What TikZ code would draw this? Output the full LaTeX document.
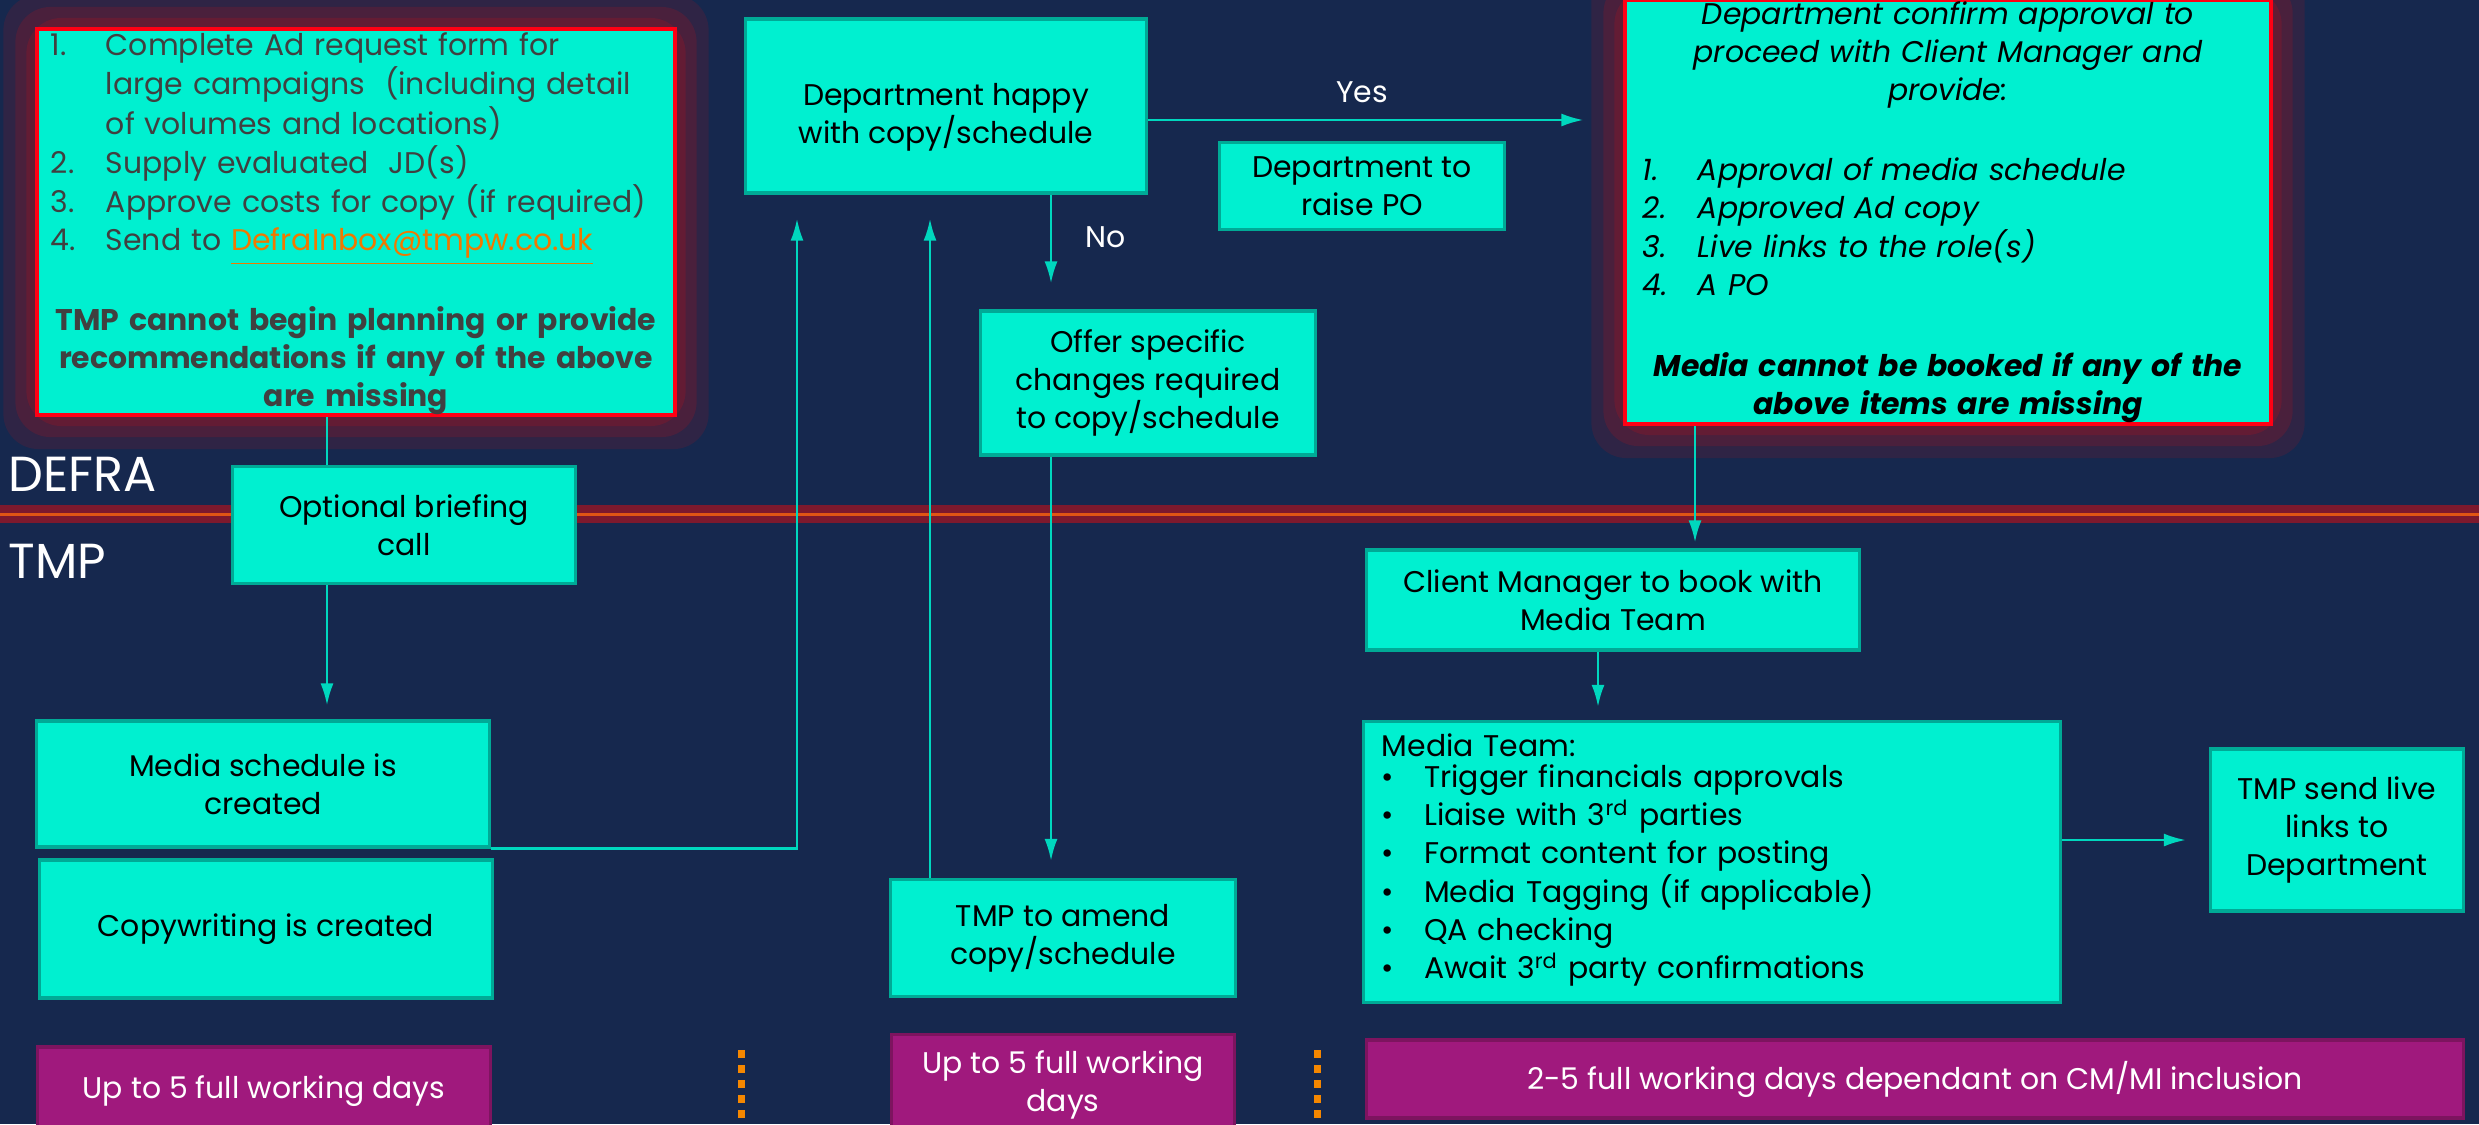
\documentclass[tikz,border=0pt]{standalone}
\usepackage{fontspec}
\setmainfont{Poppins}
\usepackage{tikz}
\usetikzlibrary{arrows.meta,backgrounds}

\definecolor{bgnavy}{RGB}{22,40,78}
\definecolor{boxteal}{RGB}{0,240,208}
\definecolor{tealedge}{RGB}{0,170,150}
\definecolor{flowteal}{RGB}{0,215,190}
\definecolor{daypurple}{RGB}{160,25,125}
\definecolor{purpleedge}{RGB}{125,20,95}
\definecolor{alertred}{RGB}{255,0,20}
\definecolor{glowred}{RGB}{125,25,45}
\definecolor{sepline}{RGB}{225,85,20}
\definecolor{dotorange}{RGB}{245,135,0}
\definecolor{textgray}{RGB}{64,64,64}
\definecolor{linkorange}{RGB}{240,120,0}

\newcommand{\bodysize}{\fontsize{8.5}{10.8}\selectfont}

\tikzset{
  base/.style={font=\bodysize, inner sep=0pt, align=center},
  stepbox/.style={base, draw=tealedge, line width=0.9pt, fill=boxteal, text=black},
  keybox/.style={stepbox, draw=alertred, line width=1.1pt},
  daybox/.style={base, draw=purpleedge, line width=0.9pt, fill=daypurple, text=white},
  flow/.style={draw=flowteal, line width=0.7pt, -{Latex[length=0.22cm,width=0.13cm]}},
  joinline/.style={draw=flowteal, line width=0.7pt},
  answer/.style={font=\bodysize, text=white},
  lanelabel/.style={font=\fontsize{14}{16}\selectfont, text=white, anchor=west, inner sep=0pt}
}

\begin{document}
\begin{tikzpicture}[x=0.01cm,y=-0.01cm]
\useasboundingbox (0,0) rectangle (2479,1124);

\node[keybox, text=textgray, minimum width=6.37cm, minimum height=3.79cm, text width=6.1cm, align=left] (req) at (356,222) {%
  \begin{tabular}{@{}l@{\hspace{0.3cm}}l@{}}
  1. & Complete Ad request form for\\
     & large campaigns\ \ (including detail\\
     & of volumes and locations)\\
  2. & Supply evaluated\ \ JD(s)\\
  3. & Approve costs for copy (if required)\\
  4. & Send to \textcolor{linkorange}{\underline{DefraInbox@tmpw.co.uk}}
  \end{tabular}\par\vspace{10.8pt}
  {\centering\bfseries TMP cannot begin planning or provide\\ recommendations if any of the above\\ are missing\par}};

\node[stepbox, minimum width=4.01cm, minimum height=1.74cm] (happy) at (946,106) {\rule{0pt}{0.45cm}Department happy\\ with copy/schedule};
\node[stepbox, minimum width=2.85cm, minimum height=0.87cm] (po) at (1362,186) {Department to\\ raise PO};
\node[stepbox, minimum width=3.35cm, minimum height=1.44cm] (offer) at (1148,383) {Offer specific\\ changes required\\ to copy/schedule};

\node[keybox, minimum width=6.45cm, minimum height=4.24cm, text width=6.1cm, align=left] (approval) at (1948,212) {%
  \itshape
  {\centering Department confirm approval to\\ proceed with Client Manager and\\ provide:\par}
  \vspace{12pt}
  \begin{tabular}{@{}l@{\hspace{0.3cm}}l@{}}
  1. & Approval of media schedule\\
  2. & Approved Ad copy\\
  3. & Live links to the role(s)\\
  4. & A PO
  \end{tabular}\par\vspace{12pt}
  {\centering\bfseries Media cannot be booked if any of the\\ above items are missing\par}};

\node[stepbox, minimum width=3.43cm, minimum height=1.17cm] (brief) at (404,525) {Optional briefing\\ call};
\node[stepbox, minimum width=4.53cm, minimum height=1.26cm] (sched) at (263,784) {Media schedule is\\ created};
\node[stepbox, minimum width=4.52cm, minimum height=1.38cm] (copy) at (266,929) {Copywriting is created};
\node[stepbox, minimum width=3.45cm, minimum height=1.17cm] (amend) at (1063,938) {TMP to amend\\ copy/schedule};

\node[stepbox, minimum width=4.93cm, minimum height=1.00cm] (client) at (1613,600) {Client Manager to book with\\ Media Team};
\node[stepbox, minimum width=6.97cm, minimum height=2.81cm, text width=6.6cm, align=left] (media) at (1712,862) {%
  Media Team:\\
  \begin{tabular}{@{}l@{\hspace{0.3cm}}l@{}}
  \textbullet & Trigger financials approvals\\
  \textbullet & Liaise with 3\textsuperscript{rd} parties\\
  \textbullet & Format content for posting\\
  \textbullet & Media Tagging (if applicable)\\
  \textbullet & QA checking\\
  \textbullet & Await 3\textsuperscript{rd} party confirmations
  \end{tabular}};
\node[stepbox, minimum width=2.53cm, minimum height=1.62cm] (live) at (2337,830) {TMP send live\\ links to\\ Department};

\node[daybox, minimum width=4.52cm, minimum height=0.88cm] (day1) at (264,1091) {Up to 5 full working days};
\node[daybox, minimum width=3.43cm, minimum height=1.01cm] (day2) at (1063,1085) {Up to 5 full working\\ days};
\node[daybox, minimum width=10.97cm, minimum height=0.78cm] (day3) at (1915,1079) {2-5 full working days dependant on CM/MI inclusion};

\node[lanelabel] (defra) at (8,474) {DEFRA};
\node[lanelabel] (tmp) at (8,561) {TMP};

\coordinate (lane1) at (327,0);
\coordinate (lane2) at (797,0);
\coordinate (lane3) at (930,0);
\coordinate (lane4) at (1051,0);
\coordinate (lane5) at (1695,0);
\coordinate (lane6) at (1598,0);
\coordinate (yesrow) at (0,120);
\coordinate (liverow) at (0,840);

\draw[joinline] (req.south -| lane1) -- (brief.north -| lane1);
\draw[flow, shorten >=0.14cm] (brief.south -| lane1) -- (sched.north -| lane1);
\draw[flow, shorten >=0.24cm] (sched.south east) -| (happy.south -| lane2);
\draw[flow, shorten >=0.24cm] (amend.north -| lane3) -- (happy.south -| lane3);
\draw[flow, shorten >=0.26cm] (happy.south -| lane4) -- node[answer, pos=0.37, right=0.22cm] {No} (offer.north -| lane4);
\draw[flow, shorten >=0.17cm] (offer.south -| lane4) -- (amend.north -| lane4);
\draw[flow, shorten >=0.4cm] (happy.east |- yesrow) -- node[answer, pos=0.45, above=0.04cm] {Yes} (approval.west |- yesrow);
\draw[flow, shorten >=0.06cm] (approval.south -| lane5) -- (client.north -| lane5);
\draw[flow, shorten >=0.13cm] (client.south -| lane6) -- (media.north -| lane6);
\draw[flow, shorten >=0.23cm] (media.east |- liverow) -- (live.west |- liverow);

\begin{scope}[on background layer]
\fill[bgnavy] (0,0) rectangle (2479,1124);
\foreach \nm in {req,approval}
  \foreach \d/\op in {32/0.25,20/0.35,9/0.5}
    \fill[glowred, opacity=\op, rounded corners=10pt] ([shift={(-\d,-\d)}]\nm.north west) rectangle ([shift={(\d,\d)}]\nm.south east);
\draw[glowred, line width=0.18cm] (0,514) -- (2479,514);
\draw[sepline, line width=0.03cm] (0,514) -- (2479,514);
\foreach \x in {741,1317}
  \draw[dotorange, line width=0.07cm, dash pattern=on 0.08cm off 0.07cm] (\x,1050) -- (\x,1124);
\end{scope}
\end{tikzpicture}
\end{document}
